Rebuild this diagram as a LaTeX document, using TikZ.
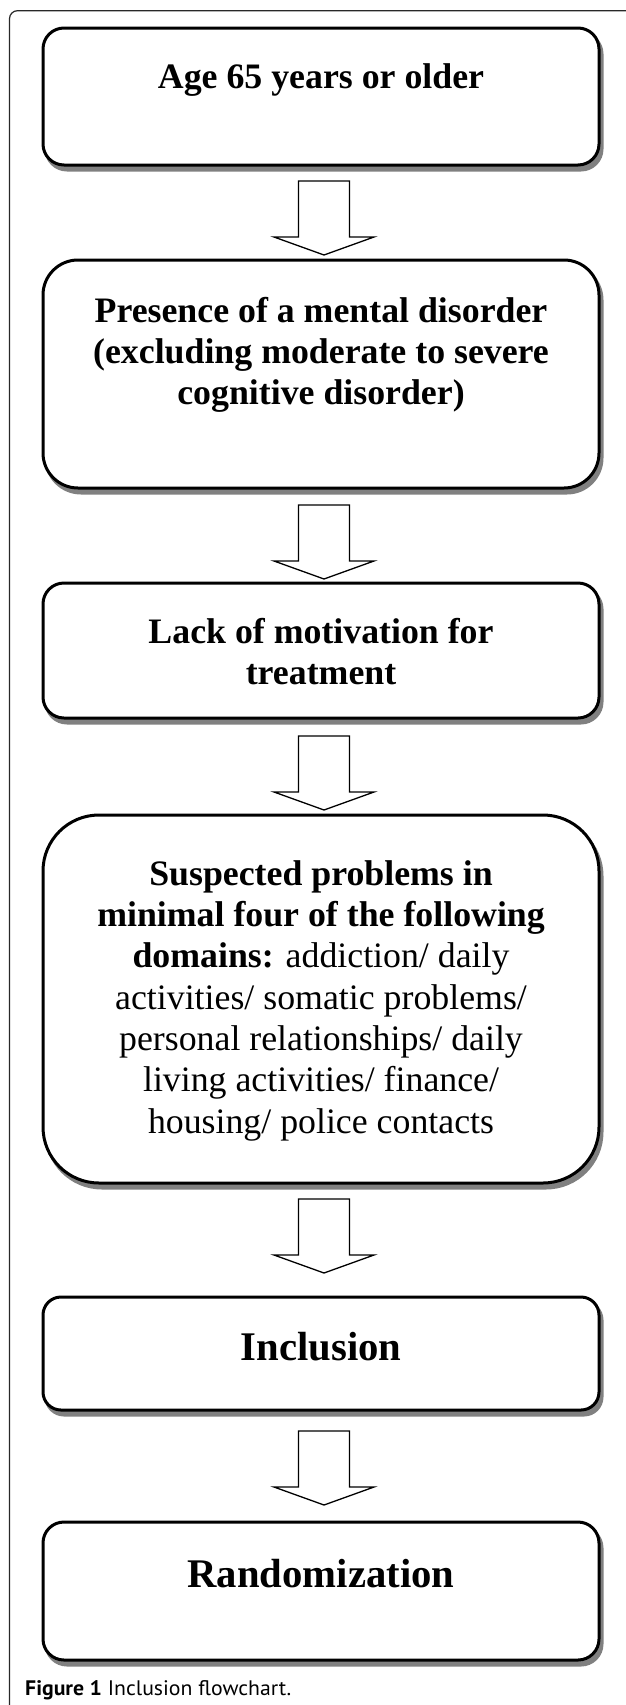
\documentclass[tikz,border=0pt]{standalone}
\usepackage{graphicx}
\usepackage{fontspec}
\setmainfont{Liberation Serif}
\newfontfamily\capfont{PT Sans}
\usetikzlibrary{shadows,calc}
\definecolor{shadowgray}{RGB}{128,128,128}
\definecolor{framecol}{RGB}{40,40,40}
\tikzset{
  flowbox/.style={draw=black, line width=3pt, fill=white, minimum width=556pt, inner sep=0pt,
    drop shadow={shadow xshift=3pt, shadow yshift=-5pt, fill=shadowgray, draw=shadowgray, line width=3pt, opacity=1}},
  boxtext/.style={anchor=north, inner sep=0pt, align=center, font=\fontsize{35.8}{41.3}\selectfont},
  bigtext/.style={anchor=north, inner sep=0pt, align=center, font=\fontsize{40.7}{46}\selectfont\bfseries},
  blockarrow/.pic={\draw[line width=1.3pt, fill=white] (-25.5,0) -- (25.5,0) -- (25.5,56) -- (50,56) -- (0,74) -- (-50,56) -- (-25.5,56) -- cycle;}
}
\begin{document}
\begin{tikzpicture}[x=1pt, y=-1pt]
\useasboundingbox (0,0) rectangle (625,1705);
\fill[white] (0,0) rectangle (625,1705);
% outer frame
\draw[framecol, line width=1.2pt, rounded corners=8pt] (627,10.7) -- (9.5,10.7) -- (9.5,1707);
% boxes
\node[flowbox, rounded corners=21pt, minimum height=137pt] (b1) at (321,96.5) {};
\node[flowbox, rounded corners=35pt, minimum height=228pt] (b2) at (321,374) {};
\node[flowbox, rounded corners=21pt, minimum height=135pt] (b3) at (321,650.5) {};
\node[flowbox, rounded corners=56pt, minimum height=368pt] (b4) at (321,999) {};
\node[flowbox, rounded corners=18pt, minimum height=113pt] (b5) at (321,1353.5) {};
\node[flowbox, rounded corners=21pt, minimum height=138pt] (b6) at (321,1591) {};
% texts
\node[boxtext] (t1) at (321,58) {\rule{0pt}{30pt}\textbf{Age 65 years or older}};
\node[boxtext] (t2) at (321,292) {\rule{0pt}{30pt}\textbf{Presence of a mental disorder}\\ \textbf{(excluding moderate to severe}\\ \textbf{cognitive disorder)}};
\node[boxtext] (t3) at (321,613) {\rule{0pt}{30pt}\textbf{Lack of motivation for}\\ \textbf{treatment}};
\node[boxtext] (t4) at (321,855) {\rule{0pt}{30pt}\textbf{Suspected problems in}\\ \textbf{minimal four of the following}\\ \textbf{domains:} addiction/ daily\\ activities/ somatic problems/\\ personal relationships/ daily\\ living activities/ finance/\\ housing/ police contacts};
\node[bigtext] (t5) at (321,1330) {\rule{0pt}{30pt}Inclusion};
\node[bigtext] (t6) at (321,1557) {\rule{0pt}{30pt}Randomization};
% block arrows
\pic (a1) at (324,181) {blockarrow};
\pic (a2) at (324,505) {blockarrow};
\pic (a3) at (324,736) {blockarrow};
\pic (a4) at (324,1199) {blockarrow};
\pic (a5) at (324,1431) {blockarrow};
% caption
\node[anchor=base west, inner sep=0pt, font=\capfont\fontsize{21}{24}\selectfont] (cap) at (25,1695) {\resizebox{266pt}{\height}{\textbf{Figure 1} Inclusion flowchart.}};
\end{tikzpicture}
\end{document}
